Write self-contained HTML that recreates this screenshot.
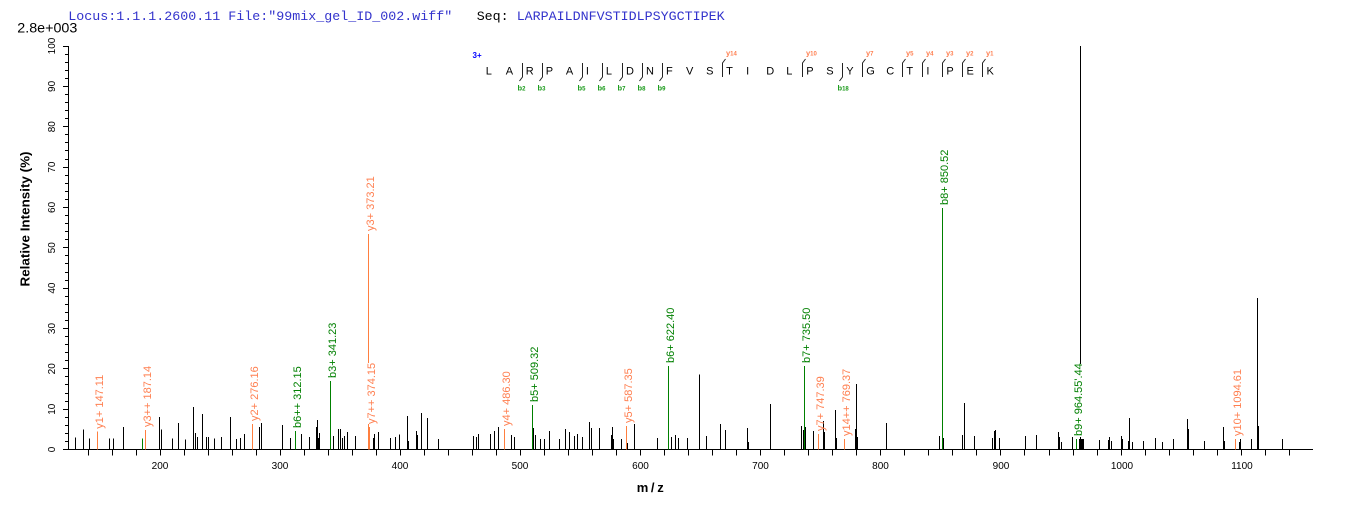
<!DOCTYPE html>
<html>
<head>
<meta charset="utf-8">
<style>
html,body{margin:0;padding:0;background:#fff;}
svg{display:block;}
</style>
</head>
<body>
<svg width="1362" height="509" viewBox="0 0 1362 509" xmlns="http://www.w3.org/2000/svg">
<rect x="0" y="0" width="1362" height="509" fill="#fff"/>

<!-- header -->
<g font-family="'Liberation Mono', monospace" font-size="13.33">
<text x="68.3" y="20" fill="#3333cc">Locus:1.1.1.2600.11 File:"99mix_gel_ID_002.wiff"</text>
<text x="476.7" y="20" fill="#000">Seq:</text>
<text x="516.7" y="20" fill="#3333cc">LARPAILDNFVSTIDLPSYGCTIPEK</text>
</g>
<text x="17.3" y="32.3" font-family="'Liberation Sans', Arial, sans-serif" font-size="14" textLength="60" lengthAdjust="spacingAndGlyphs" fill="#000">2.8e+003</text>

<!-- axes -->
<g stroke="#000" stroke-width="1" shape-rendering="crispEdges" fill="none">
<path d="M68.5 46V450 M68 449.5H1313"/>
<!-- y major ticks -->
<path d="M63 449.5H68 M63 409.5H68 M63 368.5H68 M63 328.5H68 M63 288.5H68 M63 247.5H68 M63 207.5H68 M63 167.5H68 M63 126.5H68 M63 86.5H68 M63 46.5H68"/>
<!-- y minor ticks -->
<path d="M65 441.5H68 M65 433.5H68 M65 425.5H68 M65 417.5H68 M65 401.5H68 M65 393.5H68 M65 384.5H68 M65 376.5H68 M65 360.5H68 M65 352.5H68 M65 344.5H68 M65 336.5H68 M65 320.5H68 M65 312.5H68 M65 304.5H68 M65 296.5H68 M65 280.5H68 M65 272.5H68 M65 263.5H68 M65 255.5H68 M65 239.5H68 M65 231.5H68 M65 223.5H68 M65 215.5H68 M65 199.5H68 M65 191.5H68 M65 183.5H68 M65 175.5H68 M65 159.5H68 M65 150.5H68 M65 142.5H68 M65 134.5H68 M65 118.5H68 M65 110.5H68 M65 102.5H68 M65 94.5H68 M65 78.5H68 M65 70.5H68 M65 62.5H68 M65 54.5H68"/>
<!-- x ticks -->
<path d="M88.5 449.5v6 M112.5 449.5v6 M136.5 449.5v6 M160.5 449.5v6 M184.5 449.5v6 M208.5 449.5v6 M232.5 449.5v6 M256.5 449.5v6 M280.5 449.5v6 M304.5 449.5v6 M328.5 449.5v6 M352.5 449.5v6 M376.5 449.5v6 M400.5 449.5v6 M424.5 449.5v6 M448.5 449.5v6 M472.5 449.5v6 M496.5 449.5v6 M520.5 449.5v6 M544.5 449.5v6 M568.5 449.5v6 M592.5 449.5v6 M616.5 449.5v6 M640.5 449.5v6 M664.5 449.5v6 M688.5 449.5v6 M712.5 449.5v6 M736.5 449.5v6 M760.5 449.5v6 M784.5 449.5v6 M808.5 449.5v6 M832.5 449.5v6 M856.5 449.5v6 M880.5 449.5v6 M904.5 449.5v6 M928.5 449.5v6 M952.5 449.5v6 M976.5 449.5v6 M1000.5 449.5v6 M1024.5 449.5v6 M1049.5 449.5v6 M1073.5 449.5v6 M1097.5 449.5v6 M1121.5 449.5v6 M1145.5 449.5v6 M1169.5 449.5v6 M1193.5 449.5v6 M1217.5 449.5v6 M1241.5 449.5v6 M1265.5 449.5v6 M1289.5 449.5v6"/>
</g>

<!-- y tick labels -->
<g font-family="'Liberation Sans', Arial, sans-serif" font-size="10" fill="#000" text-anchor="middle">
<text x="55" y="449.5" transform="rotate(-90 55 449.5)">0</text>
<text x="55" y="409.2" transform="rotate(-90 55 409.2)">10</text>
<text x="55" y="368.8" transform="rotate(-90 55 368.8)">20</text>
<text x="55" y="328.5" transform="rotate(-90 55 328.5)">30</text>
<text x="55" y="288.1" transform="rotate(-90 55 288.1)">40</text>
<text x="55" y="247.8" transform="rotate(-90 55 247.8)">50</text>
<text x="55" y="207.4" transform="rotate(-90 55 207.4)">60</text>
<text x="55" y="167.1" transform="rotate(-90 55 167.1)">70</text>
<text x="55" y="126.7" transform="rotate(-90 55 126.7)">80</text>
<text x="55" y="86.4" transform="rotate(-90 55 86.4)">90</text>
<text x="55" y="46" transform="rotate(-90 55 46)">100</text>
</g>
<!-- x tick labels -->
<g font-family="'Liberation Sans', Arial, sans-serif" font-size="10" fill="#000" text-anchor="middle">
<text x="160" y="469">200</text>
<text x="280" y="469">300</text>
<text x="400" y="469">400</text>
<text x="520" y="469">500</text>
<text x="640.5" y="469">600</text>
<text x="760.5" y="469">700</text>
<text x="880.5" y="469">800</text>
<text x="1001" y="469">900</text>
<text x="1122" y="469">1000</text>
<text x="1242" y="469">1100</text>
</g>

<!-- axis titles -->
<text x="29.5" y="219" transform="rotate(-90 29.5 219)" text-anchor="middle" font-family="'Liberation Sans', Arial, sans-serif" font-size="13" font-weight="bold" textLength="135" lengthAdjust="spacingAndGlyphs" fill="#000">Relative  Intensity (%)</text>
<text x="636.7" y="492" font-family="'Liberation Sans', Arial, sans-serif" font-size="13" font-weight="bold" textLength="27" lengthAdjust="spacing" fill="#000">m/z</text>

<!-- black peaks -->
<path stroke="#000" stroke-width="1" fill="none" shape-rendering="crispEdges" d="
M75.5 449.5V437.3 M83.5 449.5V429.3 M89.5 449.5V438.3 M109.5 449.5V438.3 M113.5 449.5V438.3 M123.5 449.5V427
M159.5 449.5V417 M161.5 449.5V429.3 M172.5 449.5V438.3 M178.5 449.5V423 M185.5 449.5V439.3 M193.5 449.5V407
M195.5 449.5V433 M197.5 449.5V437 M202.5 449.5V414 M206.5 449.5V437 M208.5 449.5V437 M214.5 449.5V438.3
M221.5 449.5V437 M230.5 449.5V417 M236.5 449.5V439 M240.5 449.5V438 M244.5 449.5V434 M259.5 449.5V427
M261.5 449.5V423 M282.5 449.5V425 M290.5 449.5V438 M301.5 449.5V434 M309.5 449.5V437 M316.5 449.5V427
M317.5 449.5V420 M318.5 449.5V438 M319.5 449.5V433 M333.5 449.5V436 M338.5 449.5V429 M340.5 449.5V429
M342.5 449.5V438 M344.5 449.5V436 M347.5 449.5V432 M355.5 449.5V436 M373.5 449.5V438 M374.5 449.5V434
M378.5 449.5V432 M390.5 449.5V438 M395.5 449.5V437 M399.5 449.5V434.3 M407.5 449.5V416 M408.5 449.5V441
M416.5 449.5V431 M417.5 449.5V435 M421.5 449.5V413 M427.5 449.5V418 M438.5 449.5V439 M473.5 449.5V436
M476.5 449.5V437 M478.5 449.5V434 M490.5 449.5V434 M494.5 449.5V431 M498.5 449.5V427 M511.5 449.5V435
M514.5 449.5V437 M533.5 449.5V428 M535.5 449.5V435 M540.5 449.5V439 M544.5 449.5V439 M549.5 449.5V431
M559.5 449.5V439 M565.5 449.5V429 M569.5 449.5V432 M574.5 449.5V436 M577.5 449.5V434 M582.5 449.5V437
M589.5 449.5V422 M591.5 449.5V428 M599.5 449.5V428 M611.5 449.5V435 M612.5 449.5V427 M613.5 449.5V439
M621.5 449.5V439 M627.5 449.5V443 M634.5 449.5V424 M657.5 449.5V438 M671.5 449.5V437 M675.5 449.5V435
M678.5 449.5V438 M687.5 449.5V438 M699.5 449.5V374.3 M706.5 449.5V436 M720.5 449.5V424 M725.5 449.5V430
M747.5 449.5V428 M748.5 449.5V442 M770.5 449.5V404 M801.5 449.5V426 M803.5 449.5V430 M805.5 449.5V427
M813.5 449.5V431 M823.5 449.5V421 M824.5 449.5V432 M835.5 449.5V410 M836.5 449.5V438 M855.5 449.5V429
M856.5 449.5V384 M857.5 449.5V437 M886.5 449.5V423 M939.5 449.5V436 M943.5 449.5V438 M962.5 449.5V435
M964.5 449.5V403 M974.5 449.5V436 M992.5 449.5V438 M994.5 449.5V431 M995.5 449.5V430 M999.5 449.5V438
M1025.5 449.5V436 M1036.5 449.5V435 M1058.5 449.5V432 M1059.5 449.5V437 M1061.5 449.5V442 M1072.5 449.5V437
M1079.5 449.5V439 M1081.5 449.5V439 M1082.5 449.5V439 M1083.5 449.5V439 M1080.5 449.5V46
M1099.5 449.5V440 M1108.5 449.5V440 M1109.5 449.5V437 M1111.5 449.5V441 M1121.5 449.5V436 M1122.5 449.5V439
M1128.5 449.5V441 M1129.5 449.5V418 M1132.5 449.5V442 M1143.5 449.5V441 M1155.5 449.5V438 M1162.5 449.5V442
M1173.5 449.5V439 M1187.5 449.5V419 M1188.5 449.5V429 M1204.5 449.5V441 M1223.5 449.5V427 M1224.5 449.5V441
M1239.5 449.5V442 M1240.5 449.5V439 M1251.5 449.5V439 M1257.5 449.5V298 M1258.5 449.5V426 M1282.5 449.5V439"/>

<!-- orange peaks -->
<path stroke="#ff7f3f" stroke-width="1" fill="none" shape-rendering="crispEdges" d="M97.5 449.5V431.7 M145.5 449.5V430 M252.5 449.5V424 M368.5 449.5V234 M369.5 449.5V427 M504.5 449.5V429 M626.5 449.5V426 M818.5 449.5V434 M844.5 449.5V439 M1235.5 449.5V439"/>
<!-- green peaks -->
<path stroke="#008000" stroke-width="1" fill="none" shape-rendering="crispEdges" d="M142.5 449.5V438.3 M295.5 449.5V431 M330.5 449.5V381 M532.5 449.5V405 M668.5 449.5V366 M804.5 449.5V366 M942.5 449.5V208 M1076.5 449.5V439"/>

<!-- label background boxes -->
<rect x="1073" y="364" width="10" height="73" fill="#fff"/>
<rect x="366.5" y="363" width="9" height="61" fill="#fff"/>

<!-- peak labels -->
<g font-family="'Liberation Sans', Arial, sans-serif" font-size="11">
<text x="103" y="428.7" transform="rotate(-90 103 428.7)" fill="#ff7f50">y1+ 147.11</text>
<text x="151" y="427" transform="rotate(-90 151 427)" fill="#ff7f50">y3++ 187.14</text>
<text x="258" y="421" transform="rotate(-90 258 421)" fill="#ff7f50">y2+ 276.16</text>
<text x="301" y="428" transform="rotate(-90 301 428)" fill="#008000">b6++ 312.15</text>
<text x="336" y="378" transform="rotate(-90 336 378)" fill="#008000">b3+ 341.23</text>
<text x="374" y="231" transform="rotate(-90 374 231)" fill="#ff7f50">y3+ 373.21</text>
<text x="375" y="424" transform="rotate(-90 375 424)" fill="#ff7f50">y7++ 374.15</text>
<text x="510" y="426" transform="rotate(-90 510 426)" fill="#ff7f50">y4+ 486.30</text>
<text x="538" y="402" transform="rotate(-90 538 402)" fill="#008000">b5+ 509.32</text>
<text x="632" y="423" transform="rotate(-90 632 423)" fill="#ff7f50">y5+ 587.35</text>
<text x="674" y="363" transform="rotate(-90 674 363)" fill="#008000">b6+ 622.40</text>
<text x="810" y="363" transform="rotate(-90 810 363)" fill="#008000">b7+ 735.50</text>
<text x="824" y="431" transform="rotate(-90 824 431)" fill="#ff7f50">y7+ 747.39</text>
<text x="850" y="436" transform="rotate(-90 850 436)" fill="#ff7f50">y14++ 769.37</text>
<text x="948" y="205" transform="rotate(-90 948 205)" fill="#008000">b8+ 850.52</text>
<text x="1082" y="436" transform="rotate(-90 1082 436)" fill="#008000">b9+ 964.55'.44</text>
<text x="1241" y="436" transform="rotate(-90 1241 436)" fill="#ff7f50">y10+ 1094.61</text>
</g>

<!-- peptide sequence -->
<text x="472.5" y="58" font-family="'Liberation Sans', Arial, sans-serif" font-size="8" font-weight="bold" fill="#0000ff">3+</text>
<g font-family="'Liberation Sans', Arial, sans-serif" font-size="11" fill="#000">
<text x="485.7" y="74.3">L</text>
<text x="505.8" y="74.3">A</text>
<text x="525.8" y="74.3">R</text>
<text x="545.8" y="74.3">P</text>
<text x="565.9" y="74.3">A</text>
<text x="585.9" y="74.3">I</text>
<text x="605.9" y="74.3">L</text>
<text x="626" y="74.3">D</text>
<text x="646" y="74.3">N</text>
<text x="666" y="74.3">F</text>
<text x="686" y="74.3">V</text>
<text x="706.1" y="74.3">S</text>
<text x="726.1" y="74.3">T</text>
<text x="746.1" y="74.3">I</text>
<text x="766.2" y="74.3">D</text>
<text x="786.2" y="74.3">L</text>
<text x="806.2" y="74.3">P</text>
<text x="826.3" y="74.3">S</text>
<text x="846.3" y="74.3">Y</text>
<text x="866.3" y="74.3">G</text>
<text x="886.3" y="74.3">C</text>
<text x="906.4" y="74.3">T</text>
<text x="926.4" y="74.3">I</text>
<text x="946.4" y="74.3">P</text>
<text x="966.5" y="74.3">E</text>
<text x="986.5" y="74.3">K</text>
</g>
<!-- b marks -->
<path stroke="#222" stroke-width="1" fill="none" d="M522.5 63V77L519.5 81 M542.5 63V77L539.5 81 M582.5 63V77L579.5 81 M602.5 63V77L599.5 81 M622.5 63V77L619.5 81 M642.5 63V77L639.5 81 M662.5 63V77L659.5 81 M842.5 63V77L839.5 81"/>
<!-- y marks -->
<path stroke="#222" stroke-width="1" fill="none" d="M722.5 77V63L725.5 59 M802.5 77V63L805.5 59 M862.5 77V63L865.5 59 M902.5 77V63L905.5 59 M922.5 77V63L925.5 59 M942.5 77V63L945.5 59 M962.5 77V63L965.5 59 M982.5 77V63L985.5 59"/>
<g font-family="'Liberation Sans', Arial, sans-serif" font-size="7.5" font-weight="bold" fill="#1a9a1a">
<text x="517.5" y="90.5">b<tspan font-size="6">2</tspan></text>
<text x="537.5" y="90.5">b<tspan font-size="6">3</tspan></text>
<text x="577.5" y="90.5">b<tspan font-size="6">5</tspan></text>
<text x="597.5" y="90.5">b<tspan font-size="6">6</tspan></text>
<text x="617.5" y="90.5">b<tspan font-size="6">7</tspan></text>
<text x="637.5" y="90.5">b<tspan font-size="6">8</tspan></text>
<text x="657.5" y="90.5">b<tspan font-size="6">9</tspan></text>
<text x="837.5" y="90.5">b<tspan font-size="6">18</tspan></text>
</g>
<g font-family="'Liberation Sans', Arial, sans-serif" font-size="7.5" font-weight="bold" fill="#ff7f50">
<text x="726" y="55.5">y<tspan font-size="6">14</tspan></text>
<text x="806" y="55.5">y<tspan font-size="6">10</tspan></text>
<text x="866" y="55.5">y<tspan font-size="6">7</tspan></text>
<text x="906" y="55.5">y<tspan font-size="6">5</tspan></text>
<text x="926" y="55.5">y<tspan font-size="6">4</tspan></text>
<text x="946" y="55.5">y<tspan font-size="6">3</tspan></text>
<text x="966" y="55.5">y<tspan font-size="6">2</tspan></text>
<text x="986" y="55.5">y<tspan font-size="6">1</tspan></text>
</g>
</svg>
</body>
</html>
